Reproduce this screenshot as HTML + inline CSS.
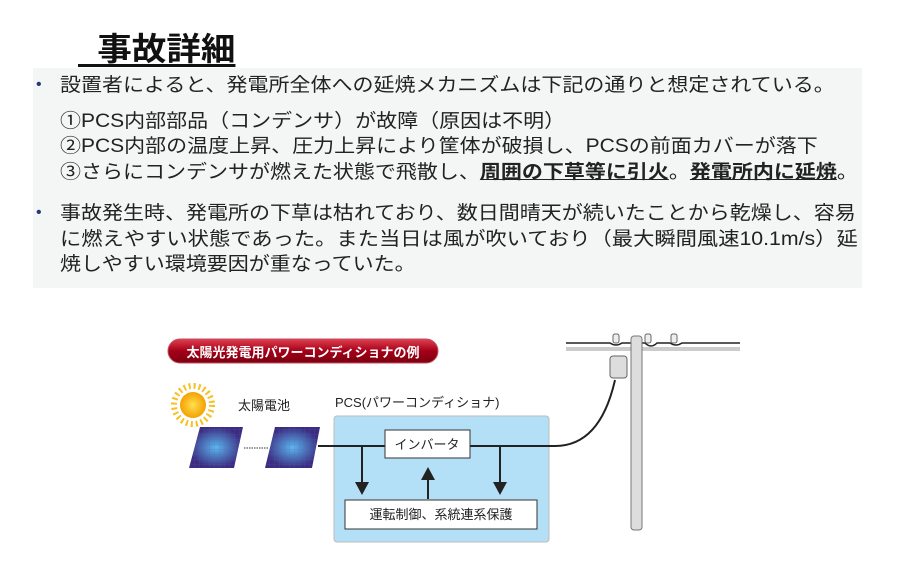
<!DOCTYPE html>
<html><head><meta charset="utf-8"><style>
body{margin:0;width:900px;height:583px;background:#fff;position:relative;overflow:hidden;font-family:"Liberation Sans","Noto Sans CJK JP",sans-serif;}
.t{position:absolute;white-space:nowrap;color:#222;font-size:19px;line-height:24px;transform:scaleX(1.105);transform-origin:0 0;}
#title{position:absolute;left:78px;top:24px;font-size:32px;font-weight:bold;color:#111;text-decoration:underline;text-underline-offset:4px;white-space:pre;transform:scaleX(1.08);transform-origin:0 0;}
#panel{position:absolute;left:33px;top:68px;width:829px;height:220px;background:#f4f6f6;}
.b{font-weight:bold;text-decoration:underline;}
.dot{position:absolute;color:#1f3b7a;font-size:16px;}
</style></head><body>
<div id="title">  事故詳細</div>
<div id="panel"></div>
<div class="dot" style="left:36px;top:76px">•</div>
<div class="t" style="left:60px;top:74px">設置者によると、発電所全体への延焼メカニズムは下記の通りと想定されている。</div>
<div class="t" style="left:60px;top:110px">①PCS内部部品（コンデンサ）が故障（原因は不明）</div>
<div class="t" style="left:60px;top:135px">②PCS内部の温度上昇、圧力上昇により筐体が破損し、PCSの前面カバーが落下</div>
<div class="t" style="left:60px;top:161px">③さらにコンデンサが燃えた状態で飛散し、<span class="b">周囲の下草等に引火</span>。<span class="b">発電所内に延焼</span>。</div>
<div class="dot" style="left:36px;top:204px">•</div>
<div class="t" style="left:60px;top:202px">事故発生時、発電所の下草は枯れており、数日間晴天が続いたことから乾燥し、容易</div>
<div class="t" style="left:60px;top:228px;transform:scaleX(1.12)">に燃えやすい状態であった。また当日は風が吹いており（最大瞬間風速10.1m/s）延</div>
<div class="t" style="left:60px;top:253px">焼しやすい環境要因が重なっていた。</div>
<svg width="900" height="583" style="position:absolute;left:0;top:0" font-family="Liberation Sans,Noto Sans CJK JP,sans-serif">
<defs>
<linearGradient id="rg" x1="0" y1="0" x2="0" y2="1"><stop offset="0" stop-color="#e04050"/><stop offset="0.5" stop-color="#a50018"/><stop offset="1" stop-color="#7a0010"/></linearGradient>
<radialGradient id="pg" cx="0.5" cy="0.5" r="0.5"><stop offset="0" stop-color="#5ab8f0"/><stop offset="1" stop-color="#3a2c80"/></radialGradient>
<radialGradient id="sg"><stop offset="0" stop-color="#ffe050"/><stop offset="1" stop-color="#f5a000"/></radialGradient>
<pattern id="grid" width="5" height="5" patternUnits="userSpaceOnUse"><path d="M5 0V5H0" fill="none" stroke="#6a5ab0" stroke-width="0.5" opacity="0.6"/></pattern>
</defs>
<rect x="168" y="339" width="270" height="24" rx="12" fill="url(#rg)" stroke="#c05060"/>
<text x="303" y="357" font-size="13" font-weight="bold" fill="#fff" text-anchor="middle">太陽光発電用パワーコンディショナの例</text>
<circle cx="193" cy="405" r="19" fill="none" stroke="#f7c020" stroke-width="6" stroke-dasharray="2 3"/>
<circle cx="193" cy="405" r="13" fill="url(#sg)"/>
<text x="238" y="410" font-size="13" fill="#222">太陽電池</text>
<polygon points="200,427 243,427 234,468 189,468" fill="url(#pg)"/>
<polygon points="200,427 243,427 234,468 189,468" fill="url(#grid)"/>
<polygon points="275,427 320,427 312,468 265,468" fill="url(#pg)"/>
<polygon points="275,427 320,427 312,468 265,468" fill="url(#grid)"/>
<line x1="244" y1="448" x2="268" y2="448" stroke="#333" stroke-dasharray="1.5 1"/>
<text x="335" y="407" font-size="13" fill="#222">PCS(パワーコンディショナ)</text>
<rect x="334" y="416" width="215" height="126" rx="3" fill="#b4e0f7" stroke="#bbb"/>
<path d="M318 446H385M470 446H555Q600 446 615 380" fill="none" stroke="#222" stroke-width="2"/>
<rect x="385" y="430" width="85" height="28" fill="#fff" stroke="#333"/>
<text x="427" y="449" font-size="13" text-anchor="middle" fill="#222">インバータ</text>
<rect x="345" y="500" width="192" height="29" fill="#fff" stroke="#333"/>
<text x="441" y="519" font-size="13" text-anchor="middle" fill="#222">運転制御、系統連系保護</text>
<g stroke="#222" stroke-width="2"><line x1="362" y1="446" x2="362" y2="484"/><line x1="428" y1="499" x2="428" y2="478"/><line x1="500" y1="446" x2="500" y2="484"/></g>
<g fill="#222"><polygon points="355,482 369,482 362,495"/><polygon points="421,480 435,480 428,467"/><polygon points="493,482 507,482 500,495"/></g>
<line x1="566" y1="349" x2="740" y2="349" stroke="#ccc" stroke-width="4"/>
<path d="M566 343H610Q616 347 622 343H645Q651 349 657 343H670Q676 347 682 343H740" fill="none" stroke="#222" stroke-width="1.5"/>
<rect x="631" y="336" width="11" height="194" rx="3" fill="#ddd" stroke="#777"/>
<rect x="610" y="356" width="17" height="22" rx="3" fill="#ddd" stroke="#666"/>
<g fill="#eee" stroke="#666"><rect x="613" y="334" width="6" height="9" rx="2"/><rect x="645" y="334" width="6" height="9" rx="2"/><rect x="671" y="334" width="6" height="9" rx="2"/></g>
</svg>
</body></html>
